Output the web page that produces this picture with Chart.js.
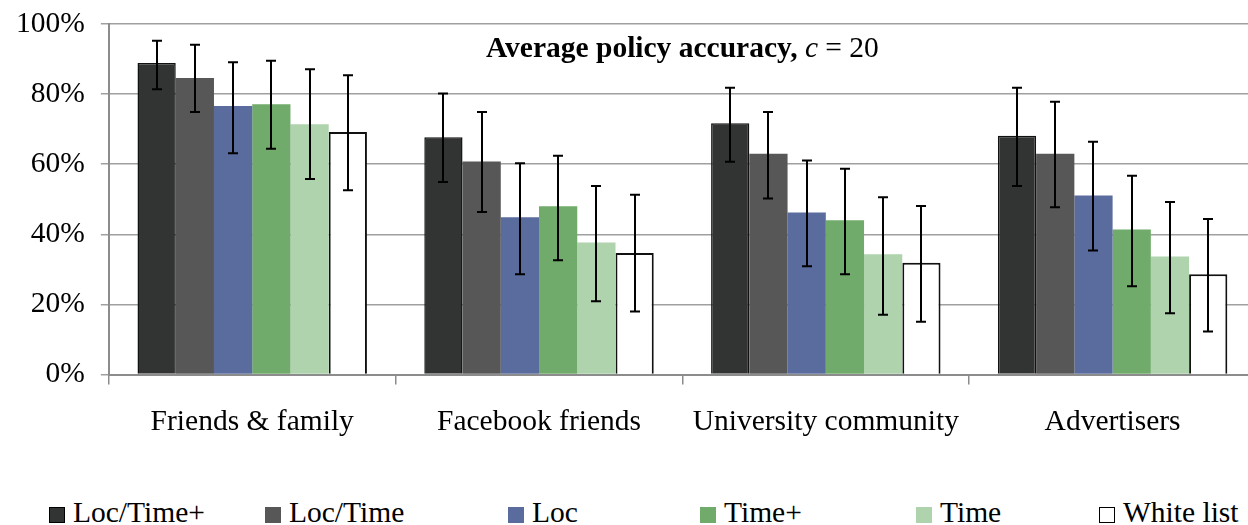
<!DOCTYPE html>
<html>
<head>
<meta charset="utf-8">
<script src="https://cdn.jsdelivr.net/npm/chart.js@4"></script>
<style>
  html, body { margin: 0; padding: 0; background: #fff; }
  #wrap { position: relative; width: 1248px; height: 525px; overflow: hidden; }
  #chart { position: absolute; left: 0; top: 0; }
  .lg { position: absolute; top: 497px; height: 30px; line-height: 30px; white-space: nowrap;
        font-family: "Liberation Serif", "Times New Roman", Times, "DejaVu Serif", serif; font-size: 29.5px; color: #000; }
  .lg span.box { display: inline-block; width: 16px; height: 16px; box-sizing: border-box;
                 vertical-align: -1px; margin-right: 8px; }
</style>
</head>
<body>
<div id="wrap">
  <canvas id="chart" width="1256" height="470"></canvas>
</div>
<script>
// Categories and series (percent values)
const categories = ['Friends & family', 'Facebook friends', 'University community', 'Advertisers'];
const seriesNames = ['Loc/Time+', 'Loc/Time', 'Loc', 'Time+', 'Time', 'White list'];

const locTimePlus = [88.9, 67.7, 71.7, 68.1];
const locTime     = [84.6, 60.8, 63.0, 63.0];
const loc         = [76.6, 44.9, 46.2, 51.1];
const timePlus    = [77.1, 48.0, 44.0, 41.4];
const time        = [71.4, 37.7, 34.3, 33.7];
const whiteList   = [69.2, 34.7, 31.9, 28.6];

// error bar ends (upper / lower), same order as the series
const errHigh = [
    [95.2, 80.2, 81.8, 81.8],
    [94.1, 74.9, 74.9, 77.8],
    [89.1, 60.3, 61.1, 66.4],
    [89.5, 62.4, 58.7, 56.7],
    [87.1, 53.8, 50.6, 49.2],
    [85.4, 51.3, 48.1, 44.4]
];
const errLow = [
    [81.4, 54.9, 60.7, 53.8],
    [74.9, 46.4, 50.2, 47.7],
    [63.1, 28.6, 30.9, 35.4],
    [64.4, 32.6, 28.6, 25.2],
    [55.8, 20.9, 17.1, 17.5],
    [52.6, 18.0, 15.1, 12.3]
];

const yTicks = [0, 20, 40, 60, 80, 100];

const fills   = ['#323433', '#575757', '#5a6b9e', '#70ab6b', '#aed3ad', '#ffffff'];
const borders = ['#111111', '#575757', '#5a6b9e', '#70ab6b', '#aed3ad', '#111111'];
const bw      = [1.5, 0, 0, 0, 0, 2];

const FONT = '"Liberation Serif", "Times New Roman", Times, "DejaVu Serif", serif';
const FS = 29.5;

const allSeries = [locTimePlus, locTime, loc, timePlus, time, whiteList];

// draws the error bars on top of the bars
const errorBars = {
    id: 'errorBars',
    afterDatasetsDraw(chart) {
        const ctx = chart.ctx;
        const y = chart.scales.y;
        ctx.save();
        ctx.strokeStyle = '#000';
        ctx.lineWidth = 2;
        chart.data.datasets.forEach((ds, i) => {
            const meta = chart.getDatasetMeta(i);
            meta.data.forEach((bar, j) => {
                const x = Math.round(bar.x);
                const yh = y.getPixelForValue(errHigh[i][j]);
                const yl = y.getPixelForValue(errLow[i][j]);
                ctx.beginPath();
                ctx.moveTo(x, yh);
                ctx.lineTo(x, yl);
                ctx.moveTo(x - 5, yh);
                ctx.lineTo(x + 5, yh);
                ctx.moveTo(x - 5, yl);
                ctx.lineTo(x + 5, yl);
                ctx.stroke();
            });
        });
        ctx.restore();
    }
};

// title with mixed bold / italic / regular pieces
const titlePlugin = {
    id: 'mixedTitle',
    afterDraw(chart) {
        const ctx = chart.ctx;
        const area = chart.chartArea;
        const parts = [
            { t: 'Average policy accuracy, ', f: 'bold ' + FS + 'px ' + FONT },
            { t: 'c', f: 'italic ' + FS + 'px ' + FONT },
            { t: ' = 20', f: FS + 'px ' + FONT }
        ];
        ctx.save();
        let total = 0;
        parts.forEach(p => { ctx.font = p.f; p.w = ctx.measureText(p.t).width; total += p.w; });
        let x = (area.left + area.right) / 2 - total / 2;
        ctx.fillStyle = '#000';
        ctx.textBaseline = 'alphabetic';
        parts.forEach(p => { ctx.font = p.f; ctx.fillText(p.t, x, 57); x += p.w; });
        ctx.restore();
    }
};

const chart = new Chart(document.getElementById('chart'), {
    type: 'bar',
    data: {
        labels: categories,
        datasets: allSeries.map((vals, i) => ({
            label: seriesNames[i],
            data: vals,
            backgroundColor: fills[i],
            borderColor: borders[i],
            borderWidth: bw[i],
            categoryPercentage: 0.8,
            barPercentage: 1.0
        }))
    },
    options: {
        responsive: false,
        animation: false,
        layout: { padding: { left: 0, top: 0, right: 0, bottom: 10 } },
        plugins: {
            legend: { display: false },
            tooltip: { enabled: false },
            title: { display: false }
        },
        scales: {
            x: {
                grid: { offset: true, drawOnChartArea: false, drawTicks: true, tickLength: 10, color: '#8c8c8c', lineWidth: 1.5 },
                border: { color: '#8c8c8c', width: 2 },
                ticks: { color: '#000', font: { family: FONT, size: FS }, padding: 20, maxRotation: 0 }
            },
            y: {
                min: 0,
                max: 100,
                afterBuildTicks: axis => { axis.ticks = yTicks.map(v => ({ value: v })); },
                // keep the top of the plot where the figure has it
                afterFit: axis => { axis.paddingTop = 24; },
                grid: { color: '#a0a0a0', lineWidth: 1.5, tickLength: 8 },
                border: { color: '#8c8c8c', width: 2 },
                ticks: {
                    color: '#000',
                    font: { family: FONT, size: FS },
                    padding: 16,
                    callback: v => v + '%'
                }
            }
        }
    },
    plugins: [errorBars, titlePlugin]
});

// legend laid out as in the figure
const legendLeft = [49, 265, 508, 700, 916, 1099];
const wrap = document.getElementById('wrap');
seriesNames.forEach((name, i) => {
    const item = document.createElement('div');
    item.className = 'lg';
    item.style.left = legendLeft[i] + 'px';
    const box = document.createElement('span');
    box.className = 'box';
    box.style.background = fills[i];
    if (bw[i] > 0) box.style.border = '1.5px solid #000';
    item.appendChild(box);
    item.appendChild(document.createTextNode(name));
    wrap.appendChild(item);
});
</script>
</body>
</html>
